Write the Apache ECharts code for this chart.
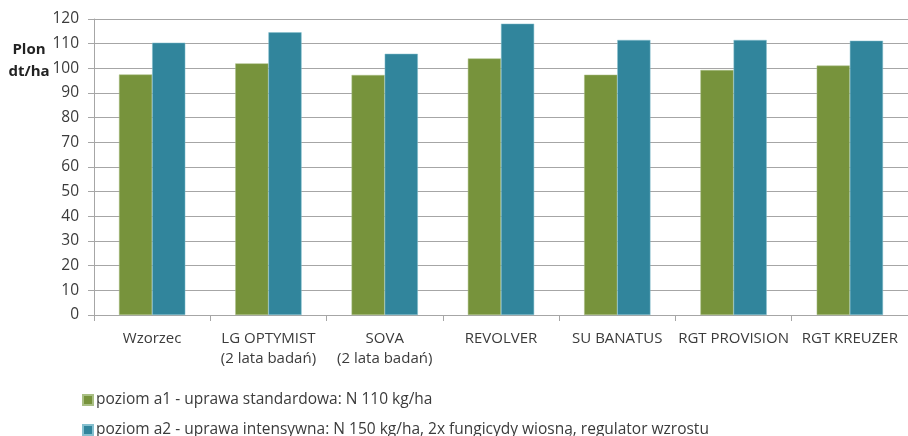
<!DOCTYPE html>
<html>
<head>
<meta charset="utf-8">
<script src="https://cdn.jsdelivr.net/npm/echarts@6/dist/echarts.min.js"></script>
<style>
  html, body { margin: 0; padding: 0; background: #fff; }
  #chart { width: 908px; height: 436px; }
</style>
</head>
<body>
<div id="chart"></div>
<script>
const categories = [
  'Wzorzec',
  'LG OPTYMIST\n(2 lata badań)',
  'SOVA\n(2 lata badań)',
  'REVOLVER',
  'SU BANATUS',
  'RGT PROVISION',
  'RGT KREUZER'
]
const seriesNames = [
  'poziom a1 - uprawa standardowa: N 110 kg/ha',
  'poziom a2 - uprawa intensywna: N 150 kg/ha, 2x fungicydy wiosną, regulator wzrostu'
]
const a1Values = [97.5, 102, 97.3, 104, 97.4, 99.3, 101.1]
const a2Values = [110.4, 114.6, 105.9, 118.1, 111.5, 111.5, 111.2]

const font = '"Open Sans", sans-serif'
const textColor = '#3b3b3b'
const gridColor = '#a6a6a6'

const chart = echarts.init(document.getElementById('chart'))

// one legend per row, like the stacked legend in the source
const legendRow = (name, top) => ({
  left: 77,
  top: top,
  itemWidth: 10,
  itemHeight: 10,
  icon: 'rect',
  textStyle: { color: textColor, fontSize: 15.5, lineHeight: 20, fontFamily: font, padding: [0, 0, 0, -2] },
  data: [name]
})

chart.setOption({
  animation: false,
  backgroundColor: '#fff',
  textStyle: { fontFamily: font },
  grid: {
    left: 94,
    top: 19,
    width: 817,
    height: 296,
    containLabel: false
  },
  graphic: [
    {
      type: 'text',
      x: 29,
      y: 50,
      style: { text: 'Plon', font: 'bold 15px ' + font, fill: '#222', align: 'center', verticalAlign: 'middle' }
    },
    {
      type: 'text',
      x: 29,
      y: 72,
      style: { text: 'dt/ha', font: 'bold 15px ' + font, fill: '#222', align: 'center', verticalAlign: 'middle' }
    }
  ],
  legend: [
    legendRow(seriesNames[0], 385),
    legendRow(seriesNames[1], 415)
  ],
  xAxis: {
    type: 'category',
    data: categories,
    axisLine: { lineStyle: { color: gridColor } },
    axisTick: { show: true, length: 6, lineStyle: { color: gridColor } },
    axisLabel: {
      color: textColor,
      fontSize: 15,
      fontFamily: font,
      margin: 14,
      lineHeight: 20,
      interval: 0
    }
  },
  yAxis: {
    type: 'value',
    min: 0,
    max: 120,
    interval: 10,
    axisLine: { show: true, lineStyle: { color: gridColor } },
    axisTick: { show: true, length: 6, lineStyle: { color: gridColor } },
    axisLabel: { color: textColor, fontSize: 15.5, fontFamily: font, margin: 15 },
    splitLine: { lineStyle: { color: gridColor, width: 1 } }
  },
  series: [
    {
      name: seriesNames[0],
      type: 'bar',
      data: a1Values,
      barGap: '0%',
      barCategoryGap: '43%',
      itemStyle: { color: '#77933C', borderColor: '#a9bf84', borderWidth: 0.5 }
    },
    {
      name: seriesNames[1],
      type: 'bar',
      data: a2Values,
      itemStyle: { color: '#31859C', borderColor: '#86c0cf', borderWidth: 0.5 }
    }
  ]
})
</script>
</body>
</html>
